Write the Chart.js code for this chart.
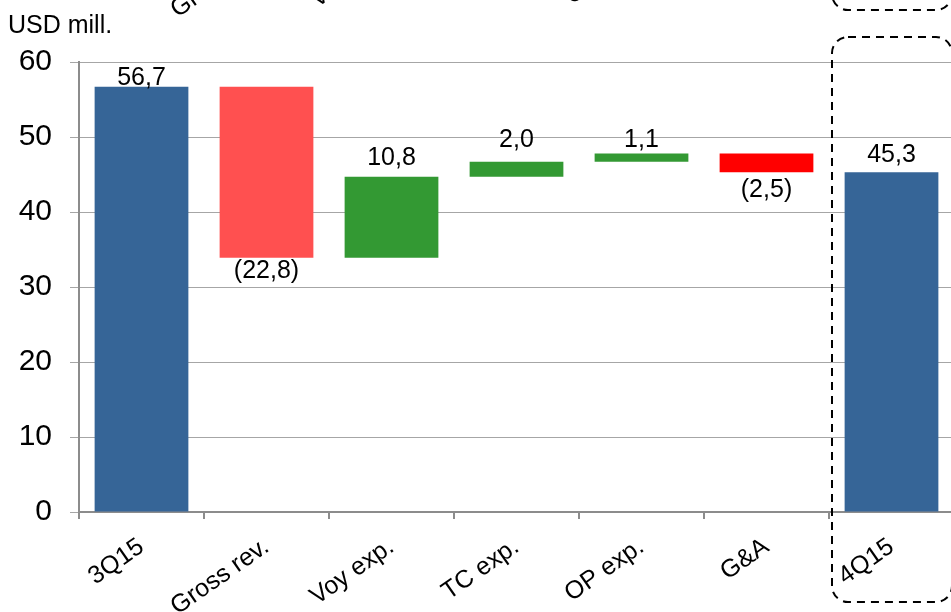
<!DOCTYPE html>
<html lang="en">
<head>
  <meta charset="UTF-8" />
  <title>USD mill. bridge 3Q15 to 4Q15</title>
  <script src="https://cdn.jsdelivr.net/npm/chart.js"></script>
  <style>
    html, body {
      margin: 0;
      padding: 0;
      background: #fff;
      overflow: hidden;
    }
    .wrap {
      width: 960px;
      height: 612px;
    }
  </style>
</head>
<body>
  <div class="wrap"><canvas id="chart"></canvas></div>

  <script>
    const categories = ['3Q15', 'Gross rev.', 'Voy exp.', 'TC exp.', 'OP exp.', 'G&A', '4Q15'];
    const changes = [56.7, -22.8, 10.8, 2.0, 1.1, -2.5, 45.3];
    const isTotal = [true, false, false, false, false, false, true];
    const barColors = ['#366597', '#ff5050', '#339933', '#339933', '#339933', '#ff0000', '#366597'];
    const yTicks = [0, 10, 20, 30, 40, 50, 60];

    const FONT = '"Liberation Sans", Arial, sans-serif';
    Chart.defaults.font.family = FONT;
    Chart.defaults.color = '#000';

    // floating bars: totals start at zero, steps start where the last one ended
    const ranges = [];
    let running = 0;
    changes.forEach((v, i) => {
      if (isTotal[i]) {
        ranges.push([0, v]);
        running = v;
      } else {
        ranges.push([running, running + v].sort((a, b) => a - b));
        running += v;
      }
    });

    const fmt = v => v.toFixed(1).replace('.', ',');

    // gap in px between bar end and its label, as placed in the original
    const labelGap = [2, 0, 12, 15, 7, 4, 10];

    const valueLabels = {
      id: 'valueLabels',
      afterDatasetsDraw(chart) {
        const ctx = chart.ctx;
        const y = chart.scales.y;
        ctx.save();
        ctx.font = '25px ' + FONT;
        ctx.fillStyle = '#000';
        ctx.textAlign = 'center';
        chart.getDatasetMeta(0).data.forEach((bar, i) => {
          const v = changes[i];
          if (v < 0) {
            ctx.textBaseline = 'top';
            ctx.fillText('(' + fmt(-v) + ')', bar.x, y.getPixelForValue(ranges[i][0]) + 1 + labelGap[i]);
          } else {
            ctx.textBaseline = 'alphabetic';
            ctx.fillText(fmt(v), bar.x, y.getPixelForValue(ranges[i][1]) - labelGap[i]);
          }
        });
        ctx.restore();
      }
    };

    // unit label, dashed box round 4Q15, and the cut-off bottom of the chart above
    const extras = {
      id: 'extras',
      afterDraw(chart) {
        const ctx = chart.ctx;
        const x = chart.scales.x;
        const area = chart.chartArea;
        const boxShift = -592;
        const textShift = -597;

        ctx.save();
        ctx.font = '25px ' + FONT;
        ctx.fillStyle = '#000';
        ctx.textAlign = 'left';
        ctx.textBaseline = 'alphabetic';
        ctx.fillText('USD mill.', 8, 33);

        const half = (x.getPixelForValue(1) - x.getPixelForValue(0)) / 2;
        const left = x.getPixelForValue(6) - half + 3;
        const right = area.right - 2;
        const top = area.top - 25;
        const bottom = chart.height - 10;
        ctx.strokeStyle = '#000';
        ctx.lineWidth = 2;
        ctx.setLineDash([8, 6]);
        [0, boxShift].forEach(dy => {
          ctx.beginPath();
          ctx.roundRect(left, top + dy, right - left, bottom - top, 16);
          ctx.stroke();
        });
        ctx.setLineDash([]);

        const items = x.getLabelItems ? x.getLabelItems(area) : [];
        items.forEach(item => {
          const o = item.options;
          ctx.save();
          ctx.font = '25px ' + FONT;
          ctx.translate(o.translation[0], o.translation[1] + textShift);
          ctx.rotate(o.rotation);
          ctx.textAlign = o.textAlign;
          ctx.textBaseline = o.textBaseline;
          ctx.fillText(item.label, 0, item.textOffset || 0);
          ctx.restore();
        });
        ctx.restore();
      }
    };

    new Chart(document.getElementById('chart'), {
      type: 'bar',
      data: {
        labels: categories,
        datasets: [{
          data: ranges,
          backgroundColor: barColors,
          borderWidth: 0,
          categoryPercentage: 1,
          barPercentage: 0.75
        }]
      },
      options: {
        responsive: true,
        maintainAspectRatio: false,
        animation: false,
        layout: { padding: { top: 62, right: 6, left: 0, bottom: 0 } },
        plugins: {
          legend: { display: false },
          tooltip: { enabled: false }
        },
        scales: {
          x: {
            afterFit(scale) { scale.height = 100; },
            grid: {
              offset: true,
              drawOnChartArea: false,
              tickLength: 7,
              color: '#8c8c8c',
              lineWidth: 2
            },
            border: { color: '#8c8c8c', width: 2 },
            ticks: {
              font: { size: 25 },
              color: '#000',
              minRotation: 35,
              maxRotation: 35,
              padding: 13,
              autoSkip: false
            }
          },
          y: {
            min: 0,
            max: 60,
            afterFit(scale) { scale.width = 79; },
            afterBuildTicks(scale) { scale.ticks = yTicks.map(v => ({ value: v })); },
            grid: {
              color: '#a6a6a6',
              lineWidth: 1,
              tickLength: 9
            },
            border: { color: '#8c8c8c', width: 2 },
            ticks: {
              font: { size: 30 },
              color: '#000',
              padding: 18
            }
          }
        }
      },
      plugins: [valueLabels, extras]
    });
  </script>
</body>
</html>
